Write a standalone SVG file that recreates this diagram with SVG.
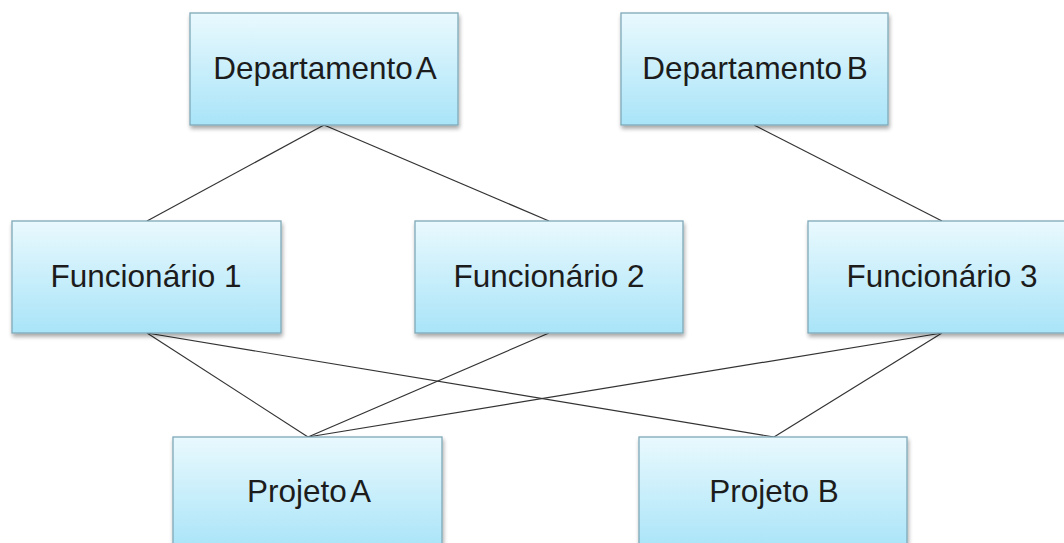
<svg xmlns="http://www.w3.org/2000/svg" width="1064" height="543" viewBox="0 0 1064 543">
<defs>
<linearGradient id="g" x1="0" y1="0" x2="0" y2="1">
<stop offset="0" stop-color="#e9f9fe"/>
<stop offset="1" stop-color="#a9e4f8"/>
</linearGradient>
<filter id="sh" x="-10%" y="-10%" width="120%" height="130%">
<feGaussianBlur in="SourceAlpha" stdDeviation="2"/>
<feOffset dx="1" dy="3" result="b"/>
<feComponentTransfer><feFuncA type="linear" slope="0.35"/></feComponentTransfer>
<feMerge><feMergeNode/><feMergeNode in="SourceGraphic"/></feMerge>
</filter>
</defs>
<style>
.box{fill:url(#g);stroke:#7fa9b8;stroke-width:1.3;filter:url(#sh)}
.t{font-family:"Liberation Sans",Arial,sans-serif;font-size:31.5px;fill:#1c1c1c;text-anchor:middle}
.n{word-spacing:-4px}
.c{stroke:#333;stroke-width:1.2;fill:none}
</style>
<rect width="1064" height="543" fill="#fff"/>
<g id="connectors">
<line class="c" x1="324" y1="125" x2="147" y2="221"/>
<line class="c" x1="324" y1="125" x2="549" y2="221"/>
<line class="c" x1="754" y1="125" x2="942" y2="221"/>
<line class="c" x1="147" y1="333" x2="308" y2="437"/>
<line class="c" x1="147" y1="333" x2="774" y2="437"/>
<line class="c" x1="549" y1="333" x2="308" y2="437"/>
<line class="c" x1="942" y1="333" x2="308" y2="437"/>
<line class="c" x1="942" y1="333" x2="774" y2="437"/>
</g>
<g id="depA"><rect class="box" x="190" y="13" width="268" height="112"/><text class="t n" x="325" y="79">Departamento A</text></g>
<g id="depB"><rect class="box" x="621" y="13" width="267" height="112"/><text class="t n" x="755" y="79">Departamento B</text></g>
<g id="func1"><rect class="box" x="12" y="221" width="269" height="112"/><text class="t" x="146" y="287">Funcionário 1</text></g>
<g id="func2"><rect class="box" x="415" y="221" width="268" height="112"/><text class="t" x="549" y="287">Funcionário 2</text></g>
<g id="func3"><rect class="box" x="808" y="221" width="268" height="112"/><text class="t" x="942" y="287">Funcionário 3</text></g>
<g id="projA"><rect class="box" x="173" y="437" width="269" height="112"/><text class="t n" x="309" y="502">Projeto A</text></g>
<g id="projB"><rect class="box" x="639" y="437" width="268" height="112"/><text class="t" x="774" y="502">Projeto B</text></g>
</svg>
